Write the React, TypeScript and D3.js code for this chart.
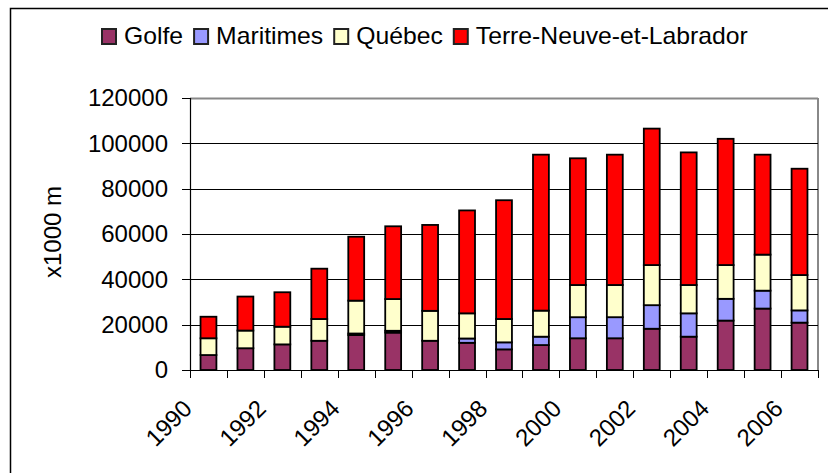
import React from "react";
import * as d3 from "d3";

const years = ["1990","1991","1992","1993","1994","1995","1996","1997","1998","1999","2000","2001","2002","2003","2004","2005","2006"];
const golfe = [6600, 9600, 11300, 12900, 15400, 16500, 12900, 12000, 9100, 11000, 14000, 14000, 18200, 14700, 21800, 27100, 20900];
const maritimes = [0, 0, 0, 0, 700, 800, 0, 1900, 3100, 3700, 9300, 9300, 10400, 10300, 9600, 7900, 5400];
const quebec = [7400, 7800, 7800, 9600, 14500, 14000, 13200, 11100, 10300, 11500, 14200, 14200, 17700, 12500, 14900, 15900, 15600];
const terre = [9500, 15000, 15200, 22200, 28200, 32100, 37900, 45400, 52400, 68800, 55900, 57500, 60200, 58500, 55700, 44100, 46900];
const seriesNames = ["Golfe", "Maritimes", "Québec", "Terre-Neuve-et-Labrador"];
const seriesColors = ["#993366", "#9999FF", "#FFFFCC", "#FF0000"];
const yTicks = [0, 20000, 40000, 60000, 80000, 100000, 120000];
const yTitle = "x1000 m";

const W = 828, H = 473;
const plot = { left: 190, right: 818, top: 98, bottom: 370 };
const FONT = "'Liberation Sans', Arial, sans-serif";

function measure(text: string, size: number) {
  try {
    const c = document.createElement("canvas").getContext("2d");
    if (c) { c.font = `${size}px "Liberation Sans", Arial, sans-serif`; return c.measureText(text).width; }
  } catch (e) {}
  return text.length * size * 0.55;
}

export default function App() {
  const rows = years.map((y, i) => ({ year: y, Golfe: golfe[i], Maritimes: maritimes[i], "Québec": quebec[i], "Terre-Neuve-et-Labrador": terre[i] }));
  const stack = d3.stack<any>().keys(seriesNames)(rows);
  const x = d3.scaleBand().domain(years).range([plot.left, plot.right]).paddingInner(0.57).paddingOuter(0.285);
  const xOuter = d3.scaleBand().domain(years).range([plot.left, plot.right]);
  const y = d3.scaleLinear().domain([0, 120000]).range([plot.bottom, plot.top]);

  // legend layout
  const legendSize = 24;
  const stretch = 1.03;
  let lx = 101;
  const legendItems = seriesNames.map((n, i) => {
    const w = measure(n, legendSize) * stretch;
    const item = { name: n, color: seriesColors[i], x: lx, w };
    lx += 23 + w + 10;
    return item;
  });

  const boundaries = years.map((yr) => xOuter(yr) as number).concat([plot.right]);

  return (
    <svg width={W} height={H} style={{ position: "absolute", left: 0, top: 0, background: "#fff" }} fontFamily={FONT}>
      <rect x={0} y={0} width={W} height={H} fill="#fff" />
      <rect x={10.5} y={8.5} width={W + 50} height={H + 50} fill="none" stroke="#000" strokeWidth={1.5} />
      {/* legend */}
      {legendItems.map((it) => (
        <g key={it.name}>
          <rect x={it.x + 1} y={29} width={14} height={15} fill={it.color} stroke="#222" strokeWidth={2} />
          <text x={it.x + 23} y={44} fontSize={legendSize} fill="#000" textLength={it.w} lengthAdjust="spacingAndGlyphs">{it.name}</text>
        </g>
      ))}
      {/* plot frame and gridlines */}
      <line x1={plot.left} x2={plot.right} y1={plot.top + 0.5} y2={plot.top + 0.5} stroke="#888" strokeWidth={2} />
      <line x1={plot.right} x2={plot.right} y1={plot.top} y2={plot.bottom} stroke="#888" strokeWidth={2} />
      {yTicks.filter((t) => t > 0 && t < 120000).map((t) => (
        <line key={t} x1={plot.left} x2={plot.right} y1={Math.round(y(t)) + 0.5} y2={Math.round(y(t)) + 0.5} stroke="#000" strokeWidth={1} />
      ))}
      {/* bars */}
      {stack.map((s, si) => (
        <g key={s.key}>
          {s.map((d, i) => {
            const h = y(d[0]) - y(d[1]);
            if (h <= 0) return null;
            return (
              <rect key={i} x={x(years[i]) as number} y={y(d[1])} width={x.bandwidth()} height={h}
                fill={seriesColors[si]} stroke="#000" strokeWidth={1.8} />
            );
          })}
        </g>
      ))}
      {/* axes */}
      <line x1={plot.left + 0.5} x2={plot.left + 0.5} y1={plot.top} y2={plot.bottom} stroke="#000" strokeWidth={1.2} />
      <line x1={plot.left} x2={plot.right} y1={plot.bottom + 0.5} y2={plot.bottom + 0.5} stroke="#000" strokeWidth={1.2} />
      {yTicks.map((t) => (
        <g key={t}>
          <line x1={plot.left - 8} x2={plot.left} y1={Math.round(y(t)) + 0.5} y2={Math.round(y(t)) + 0.5} stroke="#000" strokeWidth={1} />
          <text x={168} y={y(t)} dy="0.35em" textAnchor="end" fontSize={24} fill="#000">{t}</text>
        </g>
      ))}
      {boundaries.map((b, i) => (
        <line key={i} x1={Math.round(b) + 0.5} x2={Math.round(b) + 0.5} y1={plot.bottom} y2={plot.bottom + 8} stroke="#000" strokeWidth={1} />
      ))}
      {years.map((yr, i) => i % 2 === 0 ? (
        <text key={yr} transform={`translate(${(xOuter(yr) as number) + xOuter.bandwidth() / 2 - 15},${410}) rotate(-45)`}
          textAnchor="end" fontSize={24} fill="#000">{yr}</text>
      ) : null)}
      <text transform={`translate(61,232) rotate(-90)`} textAnchor="middle" fontSize={24} fill="#000">{yTitle}</text>
    </svg>
  );
}
